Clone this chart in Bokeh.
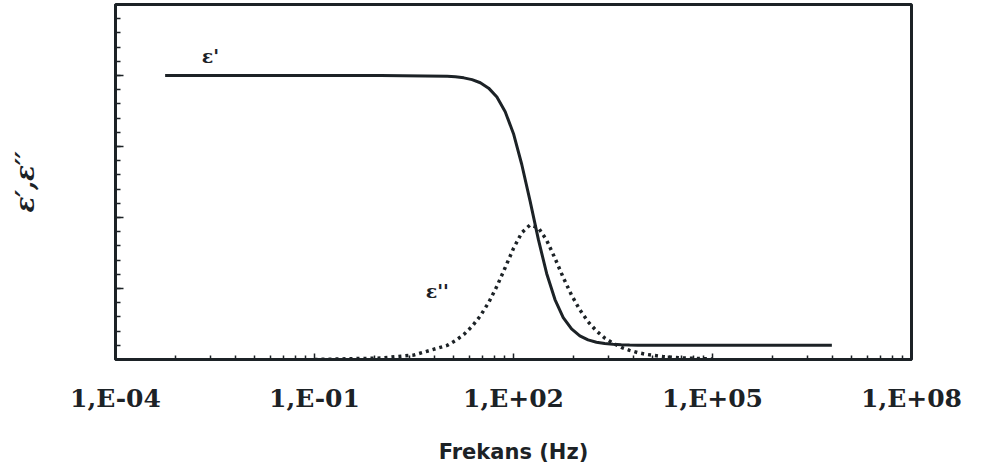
from bokeh.plotting import figure
from bokeh.models import Range1d, FixedTicker, Label, CustomLabelingPolicy
from bokeh.embed import file_html
from bokeh.resources import INLINE

# ---- data ----
freq_eps1 = [5.6e-4, 1e-2, 1, 10, 13.3, 17.8, 23.7, 31.6, 42.2, 56.2, 75, 100, 133, 178, 237,
             316, 422, 562, 750, 1000, 1330, 1780, 2370, 3160, 4220, 5620, 7500, 1e4, 1e5, 6.3e6]
eps1 = [4.0, 4.0, 4.0, 3.99, 3.981, 3.967, 3.942, 3.898, 3.822, 3.696, 3.490, 3.18, 2.750, 2.231, 1.691,
        1.212, 0.844, 0.591, 0.430, 0.333, 0.276, 0.243, 0.224, 0.214, 0.208, 0.204, 0.202, 0.201, 0.2, 0.2]

freq_eps2 = [0.1, 1, 3.16, 10, 13.3, 17.8, 23.7, 31.6, 42.2, 56.2, 75, 100, 133, 178, 237, 316,
             422, 562, 750, 1000, 1330, 1780, 2370, 3160, 4220, 5620, 7500, 1e4, 1.78e4, 3.16e4, 1e5]
eps2 = [0.0, 0.02, 0.063, 0.199, 0.265, 0.351, 0.466, 0.614, 0.802, 1.031, 1.295, 1.565, 1.785, 1.895,
        1.856, 1.680, 1.426, 1.155, 0.907, 0.699, 0.532, 0.402, 0.303, 0.229, 0.171, 0.129, 0.0965,
        0.072, 0.041, 0.023, 0.007]

x_tick_values = [1e-4, 1e-1, 1e2, 1e5, 1e8]
x_tick_labels = ["1,E-04", "1,E-01", "1,E+02", "1,E+05", "1,E+08"]
y_tick_values = [1, 2, 3, 4]

x_title = "Frekans (Hz)"
y_title = "ε′,ε′′"
label_eps1 = "ε'"
label_eps2 = "ε''"

INK = "#1c2226"

p = figure(width=965, height=467, x_axis_type="log",
           x_range=Range1d(1e-4, 1e8), y_range=Range1d(0, 5),
           output_backend="svg", toolbar_location=None,
           min_border_left=115, min_border_right=54, min_border_top=4, min_border_bottom=108)
p.background_fill_color = "white"
p.border_fill_color = "white"
p.outline_line_color = INK
p.outline_line_width = 3
p.xgrid.visible = False
p.ygrid.visible = False

# x axis
minor_x = []
for b in [1e-4, 1e-1, 1e2, 1e5]:
    for k in range(2, 10):
        minor_x.append(b * k ** 3)
p.xaxis.ticker = FixedTicker(ticks=x_tick_values, minor_ticks=minor_x)
p.xaxis.major_label_overrides = {v: s for v, s in zip(x_tick_values, x_tick_labels)}
p.xaxis.major_label_text_font = "DejaVu Serif"
p.xaxis.major_label_text_font_style = "bold"
p.xaxis.major_label_text_font_size = "25px"
p.xaxis.major_label_text_color = INK
p.xaxis.major_label_standoff = 24
p.xaxis.axis_label = x_title
p.xaxis.axis_label_text_font = "DejaVu Sans"
p.xaxis.axis_label_text_font_style = "bold"
p.xaxis.axis_label_text_font_size = "21px"
p.xaxis.axis_label_text_color = INK
p.xaxis.axis_label_standoff = 24
p.xaxis.axis_line_color = INK
p.xaxis.axis_line_width = 3
p.xaxis.major_tick_in = 6
p.xaxis.major_tick_out = 0
p.xaxis.minor_tick_in = 4
p.xaxis.minor_tick_out = 0
p.xaxis.major_tick_line_color = INK
p.xaxis.minor_tick_line_color = INK
p.xaxis.major_tick_line_width = 1.5
p.xaxis.minor_tick_line_width = 1.5

# y axis (no tick labels in the reference)
minor_y = [round(0.2 * i, 2) for i in range(1, 25)]
p.yaxis.ticker = FixedTicker(ticks=y_tick_values, minor_ticks=minor_y)
p.yaxis.major_label_policy = CustomLabelingPolicy(code="""
for (const i of indices)
    indices.unset(i)
""")
p.yaxis.major_label_standoff = 0
p.yaxis.axis_label = y_title
p.yaxis.axis_label_text_font = "DejaVu Serif"
p.yaxis.axis_label_text_font_style = "bold italic"
p.yaxis.axis_label_text_font_size = "26px"
p.yaxis.axis_label_text_color = INK
p.yaxis.axis_label_standoff = 66
p.yaxis.axis_line_color = INK
p.yaxis.axis_line_width = 3
p.yaxis.major_tick_in = 8
p.yaxis.major_tick_out = 0
p.yaxis.minor_tick_in = 5
p.yaxis.minor_tick_out = 0
p.yaxis.major_tick_line_color = INK
p.yaxis.minor_tick_line_color = INK
p.yaxis.major_tick_line_width = 1.5
p.yaxis.minor_tick_line_width = 1.5

# curves
p.line(freq_eps1, eps1, line_color=INK, line_width=3)
p.line(freq_eps2, eps2, line_color=INK, line_width=3.5, line_dash="3 4")

p.add_layout(Label(x=2.7e-3, y=4.28, text=label_eps1, text_font="DejaVu Serif",
                   text_font_style="bold", text_font_size="19px", text_color=INK,
                   text_align="center", text_baseline="middle"))
p.add_layout(Label(x=7.1, y=0.97, text=label_eps2, text_font="DejaVu Serif",
                   text_font_style="bold", text_font_size="19px", text_color=INK,
                   text_align="center", text_baseline="middle"))

open("out.html", "w").write(file_html(p, INLINE))
